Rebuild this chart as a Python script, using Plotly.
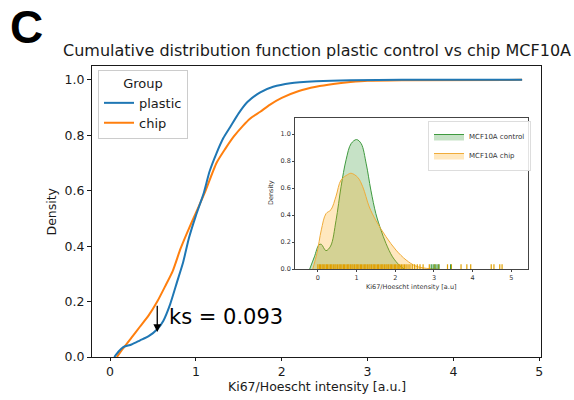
import plotly.graph_objects as go

# ---------------- data ----------------
plastic_x = [0.05, 0.10, 0.15, 0.25, 0.35, 0.45, 0.55, 0.62, 0.70, 0.78, 0.85, 0.92, 1.00, 1.09,
             1.16, 1.24, 1.32, 1.40, 1.50, 1.60, 1.75, 1.90, 2.10, 2.40, 2.80, 3.40, 4.80]
plastic_y = [0.0, 0.02, 0.035, 0.045, 0.06, 0.075, 0.10, 0.13, 0.19, 0.27, 0.34, 0.43, 0.51, 0.59,
             0.67, 0.735, 0.79, 0.83, 0.88, 0.92, 0.955, 0.975, 0.988, 0.995, 0.999, 1.0, 1.0]
chip_x = [0.08, 0.15, 0.25, 0.35, 0.45, 0.55, 0.65, 0.73, 0.82, 0.90, 1.00, 1.10, 1.24, 1.34,
          1.44, 1.55, 1.63, 1.75, 1.86, 2.00, 2.20, 2.40, 2.60, 2.80, 3.00, 3.40, 4.80]
chip_y = [0.0, 0.03, 0.07, 0.11, 0.15, 0.20, 0.26, 0.31, 0.39, 0.45, 0.52, 0.59, 0.70, 0.75,
          0.795, 0.835, 0.86, 0.885, 0.91, 0.935, 0.96, 0.975, 0.985, 0.992, 0.997, 0.999, 1.0]

ks_value = 0.093
ks_x = 0.55
ks_top = 0.19
ks_bottom = 0.09

# inset KDE
ctrl_kde_x = [-0.21, -0.09, 0.03, 0.09, 0.21, 0.33, 0.47, 0.60, 0.73, 0.86, 1.00, 1.12, 1.25,
              1.37, 1.50, 1.63, 1.76, 1.93, 2.10, 2.23]
ctrl_kde_y = [0.0, 0.09, 0.18, 0.183, 0.136, 0.17, 0.36, 0.61, 0.81, 0.93, 0.96, 0.93, 0.78,
              0.585, 0.41, 0.29, 0.19, 0.09, 0.03, 0.0]
chip_kde_x = [-0.13, -0.02, 0.09, 0.21, 0.34, 0.47, 0.60, 0.77, 0.86, 1.03, 1.16, 1.33, 1.50,
              1.76, 2.02, 2.28, 2.53, 2.80, 3.10]
chip_kde_y = [0.0, 0.12, 0.29, 0.41, 0.44, 0.54, 0.66, 0.70, 0.71, 0.68, 0.61, 0.46, 0.36,
              0.24, 0.14, 0.067, 0.022, 0.005, 0.0]

# rug values (inset)
chip_rug = [0.00, 0.04, 0.07, 0.11, 0.14, 0.18, 0.22, 0.25, 0.29, 0.33, 0.36, 0.40, 0.44, 0.47,
            0.51, 0.55, 0.58, 0.62, 0.66, 0.69, 0.73, 0.77, 0.80, 0.84, 0.88, 0.91, 0.95, 0.99,
            1.02, 1.06, 1.10, 1.13, 1.17, 1.21, 1.24, 1.28, 1.32, 1.35, 1.39, 1.43, 1.46, 1.50,
            1.54, 1.57, 1.61, 1.65, 1.68, 1.72, 1.76, 1.79, 1.83, 1.87, 1.90, 1.94, 1.98, 2.01,
            2.05, 2.09, 2.12, 2.16, 2.20, 2.24, 2.28, 2.33, 2.38, 2.44, 2.50, 2.57, 2.64, 2.72,
            2.88, 3.02, 3.12, 3.35, 3.45, 3.70, 3.85, 3.95, 4.48, 4.55, 4.70, 4.76]
ctrl_rug = [2.93, 2.98, 3.03, 3.08, 3.13, 3.43]

main_ticks_x = [0, 1, 2, 3, 4, 5]
main_ticks_y = [0.0, 0.2, 0.4, 0.6, 0.8, 1.0]
inset_ticks_y = [0.0, 0.2, 0.4, 0.6, 0.8, 1.0]

BLUE = "#1f77b4"
ORANGE = "#ff7f0e"
FONT = "DejaVu Sans"
W, H = 574, 400


def px(x):
    return x / W


def py(y):
    return 1 - y / H


fig = go.Figure()

# main ECDF (chip first, plastic on top)
fig.add_trace(go.Scatter(x=chip_x, y=chip_y, mode="lines", name="chip",
                         line=dict(color=ORANGE, width=2, shape="spline", smoothing=0.6),
                         legendrank=2, legend="legend"))
fig.add_trace(go.Scatter(x=plastic_x, y=plastic_y, mode="lines", name="plastic",
                         line=dict(color=BLUE, width=2, shape="spline", smoothing=0.6),
                         legendrank=1, legend="legend"))

# inset KDE
fig.add_trace(go.Scatter(x=ctrl_kde_x, y=ctrl_kde_y, mode="lines", name="MCF10A control",
                         fill="tozeroy", fillcolor="rgba(50,150,50,0.28)",
                         line=dict(color="#3f9a3f", width=1, shape="spline"),
                         xaxis="x2", yaxis="y2", legend="legend2"))
fig.add_trace(go.Scatter(x=chip_kde_x, y=chip_kde_y, mode="lines", name="MCF10A chip",
                         fill="tozeroy", fillcolor="rgba(255,165,0,0.25)",
                         line=dict(color="#f0ac3a", width=1, shape="spline"),
                         xaxis="x2", yaxis="y2", legend="legend2"))

RUG_H = 0.035


def rug_xy(vals):
    xs, ys = [], []
    for v in vals:
        xs += [v, v, None]
        ys += [0, RUG_H, None]
    return xs, ys


cx, cy = rug_xy(chip_rug)
fig.add_trace(go.Scatter(x=cx, y=cy, mode="lines", line=dict(color="#e0a000", width=1.2),
                         showlegend=False, xaxis="x2", yaxis="y2", hoverinfo="skip"))
gx, gy = rug_xy(ctrl_rug)
fig.add_trace(go.Scatter(x=gx, y=gy, mode="lines", line=dict(color="#3f9a3f", width=1.2),
                         showlegend=False, xaxis="x2", yaxis="y2", hoverinfo="skip"))

axis_common = dict(showgrid=False, zeroline=False, showline=True, mirror=True,
                   ticks="outside", automargin=False)

fig.update_layout(
    width=W, height=H, autosize=False,
    margin=dict(l=0, r=0, t=0, b=0),
    paper_bgcolor="white", plot_bgcolor="white",
    font=dict(family=FONT, color="#1a1a1a"),
    xaxis=dict(domain=[px(92), px(541)], range=[-0.21, 5.02], tickvals=main_ticks_x,
               linecolor="#1a1a1a", linewidth=1.2, ticklen=3, tickcolor="#1a1a1a",
               tickfont=dict(size=12.5), **axis_common),
    yaxis=dict(domain=[py(357), py(66)], range=[0, 1.05], tickvals=main_ticks_y,
               tickformat=".1f", linecolor="#1a1a1a", linewidth=1.2, ticklen=4,
               tickcolor="#1a1a1a", tickfont=dict(size=12.5), **axis_common),
    xaxis2=dict(domain=[px(295), px(528)], range=[-0.59, 5.43], tickvals=main_ticks_x,
                anchor="y2", linecolor="#444", linewidth=0.8, ticklen=2, tickcolor="#444",
                tickfont=dict(size=6.5, color="#333"), **axis_common),
    yaxis2=dict(domain=[py(269), py(118)], range=[0, 1.12], tickvals=inset_ticks_y,
                tickformat=".1f", anchor="x2", linecolor="#444", linewidth=0.8, ticklen=2,
                tickcolor="#444", tickfont=dict(size=6.5, color="#333"), **axis_common),
    legend=dict(x=px(98), y=py(70), xanchor="left", yanchor="top",
                bgcolor="rgba(255,255,255,0.85)", bordercolor="#cccccc", borderwidth=1,
                font=dict(size=13), title=dict(text="Group", side="top center",
                                               font=dict(size=13)),
                itemwidth=30, tracegroupgap=0),
    legend2=dict(x=px(428), y=py(121), xanchor="left", yanchor="top",
                 bgcolor="rgba(255,255,255,0.85)", bordercolor="#dddddd", borderwidth=1,
                 font=dict(size=7, color="#333"), itemwidth=30, tracegroupgap=0),
    showlegend=True,
)

annotations = [
    dict(text="<b>C</b>", x=px(8), y=py(27), xref="paper", yref="paper",
         xanchor="left", yanchor="middle", showarrow=False,
         font=dict(size=46, family="Liberation Sans", color="black")),
    dict(text="Cumulative distribution function plastic control vs chip MCF10A",
         x=px(316.5), y=py(50), xref="paper", yref="paper", xanchor="center",
         yanchor="middle", showarrow=False, font=dict(size=16)),
    dict(text="Ki67/Hoescht intensity [a.u.]", x=px(316.5), y=py(386), xref="paper",
         yref="paper", xanchor="center", yanchor="middle", showarrow=False,
         font=dict(size=12.5)),
    dict(text="Density", x=px(51), y=py(211.5), xref="paper", yref="paper",
         xanchor="center", yanchor="middle", textangle=-90, showarrow=False,
         font=dict(size=12.5)),
    dict(text="Ki67/Hoescht intensity [a.u]", x=px(411.5), y=py(287), xref="paper",
         yref="paper", xanchor="center", yanchor="middle", showarrow=False,
         font=dict(size=6.5, color="#333")),
    dict(text="Density", x=px(271), y=py(193), xref="paper", yref="paper",
         xanchor="center", yanchor="middle", textangle=-90, showarrow=False,
         font=dict(size=6.5, color="#333")),
    dict(text=f"ks = {ks_value:.3f}", x=ks_x + 0.11, y=(ks_top + ks_bottom) / 2 + 0.005,
         xref="x", yref="y", xanchor="left", yanchor="middle", showarrow=False,
         font=dict(size=21, color="black")),
    dict(text="", x=ks_x, y=ks_bottom, ax=ks_x, ay=ks_top, xref="x", yref="y",
         axref="x", ayref="y", showarrow=True, arrowhead=2, arrowsize=1.2,
         arrowwidth=1.3, arrowcolor="black", standoff=0, startstandoff=0),
]
fig.update_layout(annotations=annotations)

# remove the default page margin so the figure fills the 574x400 window exactly
fig.write_html("out.html",
               config={"displayModeBar": False},
               post_script="document.body.style.margin='0px';"
                           "document.body.style.overflow='hidden';")
